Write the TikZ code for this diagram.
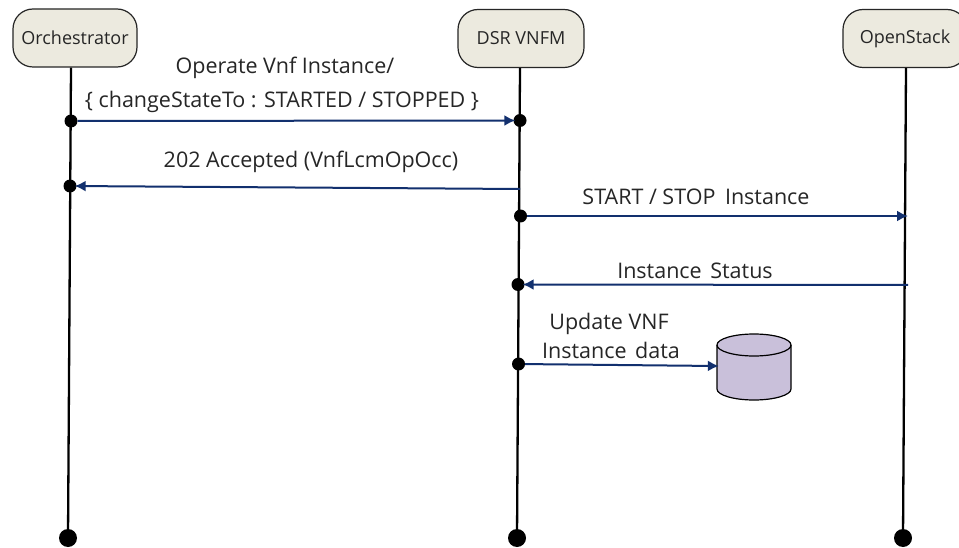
\documentclass[tikz,border=0pt]{standalone}
\usepackage{fontspec}
\setmainfont{Open Sans}
\usetikzlibrary{arrows.meta}
\definecolor{boxfill}{HTML}{ECEADF}
\definecolor{msg}{HTML}{12306E}
\definecolor{dbfill}{HTML}{C9C0DA}
\definecolor{ink}{HTML}{262626}
\tikzset{
  actor/.style={draw=ink,line width=1.2pt,fill=boxfill,rounded corners=20pt,minimum height=58pt,inner sep=0pt,text=ink,font=\fontsize{18}{21}\selectfont,anchor=center},
  life/.style={draw=black,line width=2.3pt},
  dot/.style={circle,fill=black,inner sep=0pt,minimum size=#1},
  msgline/.style={draw=msg,line width=2pt,shorten >=-2pt,-{Latex[length=11pt,width=11pt]}},
  lbl/.style={text=ink,font=\fontsize{21.5}{25}\selectfont,inner sep=0pt,anchor=center}
}
\begin{document}
\begin{tikzpicture}[x=1pt,y=-1pt]
\useasboundingbox[fill=white] (0,0) rectangle (959,548);
% actors
\node[actor,minimum width=124pt] (orch) at (75,38) {Orchestrator};
\node[actor,minimum width=126pt] (dsr) at (521,38.5) {DSR VNFM};
\node[actor,minimum width=124pt] (os) at (905,38.5) {OpenStack};
% lifeline ends
\node[dot=18pt] (orchend) at (68,538) {};
\node[dot=18pt] (dsrend) at (517,538) {};
\node[dot=18pt] (osend) at (903,538) {};
\draw[life] (orch.south -| 71,0) -- (orchend);
\draw[life] (dsr.south -| 520,0) -- (dsrend);
\draw[life] (os.south -| 906,0) -- (osend);
% event dots
\node[dot=13pt] (o1) at (71,121) {};
\node[dot=13pt] (d1) at (520,120.5) {};
\node[dot=13pt] (o2) at (70,186) {};
\coordinate (d2) at (520,189);
\node[dot=13pt] (d3) at (520.5,216) {};
\coordinate (s3) at (906,216);
\coordinate (s4) at (908,285);
\node[dot=13pt] (d4) at (518,284.5) {};
\node[dot=13pt] (d5) at (518.5,364) {};
% database
\fill[dbfill] (717,345) arc[start angle=180,end angle=360,x radius=37,y radius=11] -- (791,389) arc[start angle=0,end angle=180,x radius=37,y radius=11] -- cycle;
\draw[black,line width=1.2pt] (717,345) arc[start angle=180,end angle=540,x radius=37,y radius=11];
\draw[black,line width=1.2pt] (717,345) -- (717,389) arc[start angle=180,end angle=0,x radius=37,y radius=11] -- (791,345);
\node[inner sep=0pt,minimum width=74pt,minimum height=66pt] (db) at (754,366) {};
% messages
\draw[msgline] (o1) -- (d1);
\draw[msgline] (d2) -- (o2);
\draw[msgline] (d3) -- (s3);
\draw[msgline] (s4) -- (d4);
\draw[msgline] (d5) -- (db.west);
% labels
\node[lbl] (t1) at (285,68) {Operate Vnf Instance/};
\node[lbl] (t2) at (282,102) {\{ changeStateTo : STARTED / STOPPED \}};
\node[lbl] (t3) at (311,162) {202 Accepted (VnfLcmOpOcc)};
\node[lbl] (t4) at (696,197) {START / STOP\hspace{4pt} Instance};
\node[lbl] (t5) at (695,271) {Instance\hspace{3pt} Status};
\node[lbl] (t6) at (609,324) {Update VNF};
\node[lbl] (t7) at (611,350) {Instance\hspace{3pt} data};
\end{tikzpicture}
\end{document}
